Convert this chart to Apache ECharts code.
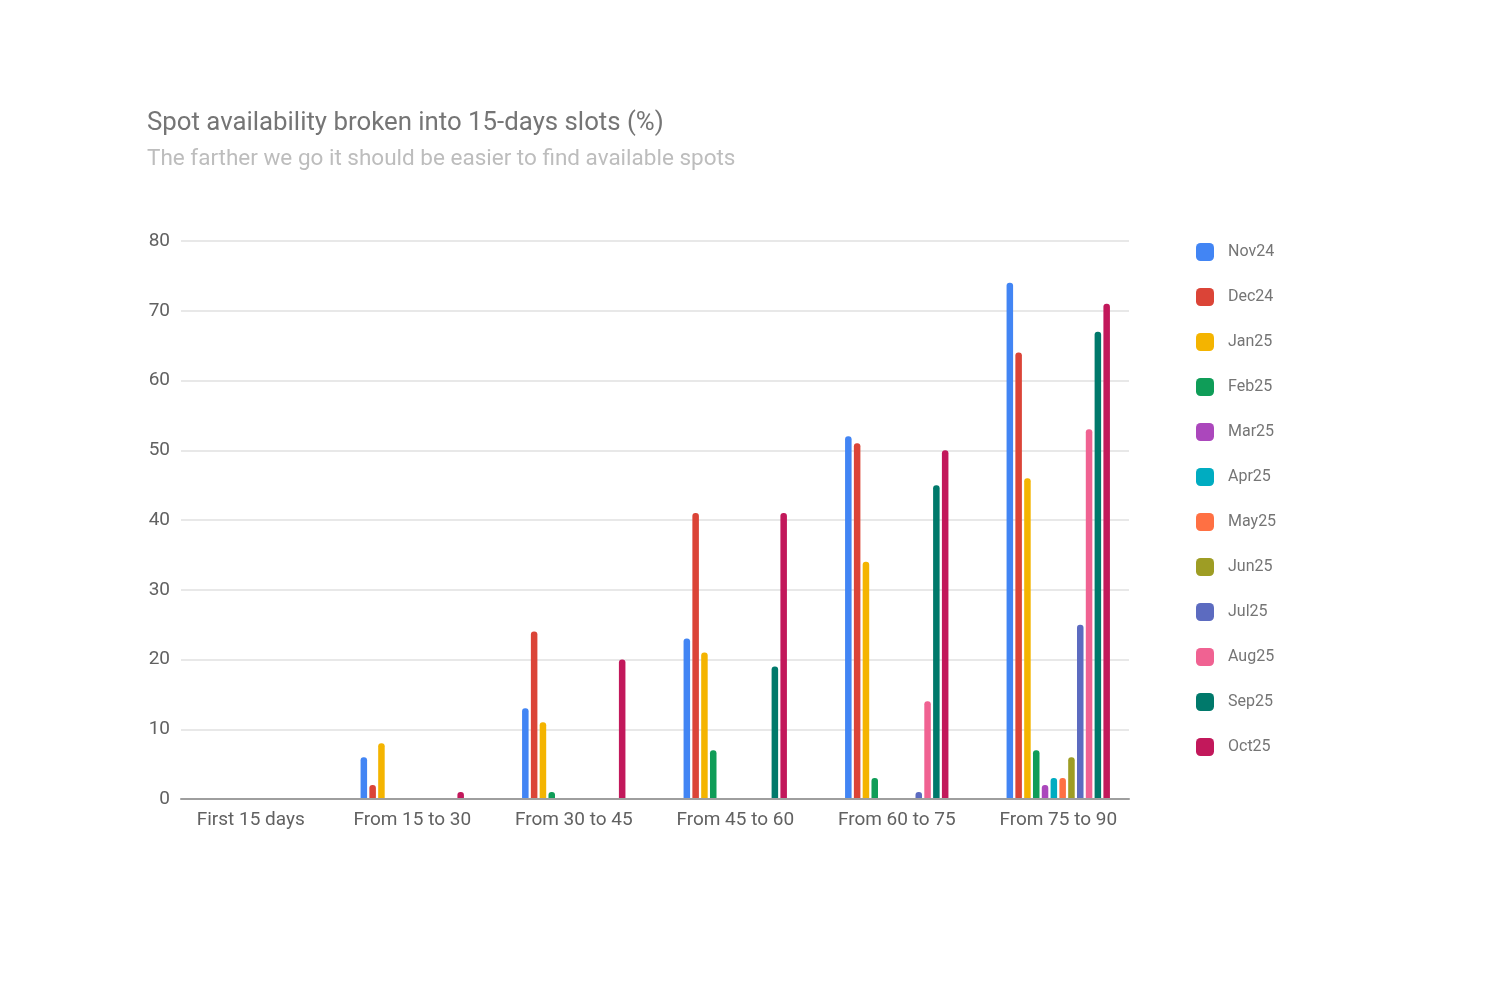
<!DOCTYPE html>
<html><head><meta charset="utf-8">
<script src="https://cdn.jsdelivr.net/npm/echarts@6/dist/echarts.min.js"></script>
<style>html,body{margin:0;padding:0;background:#fff}#c{width:1500px;height:982px}</style>
</head><body><div id="c"></div>
<script>
const categories = ['First 15 days','From 15 to 30','From 30 to 45','From 45 to 60','From 60 to 75','From 75 to 90'];
const seriesNames = ['Nov24','Dec24','Jan25','Feb25','Mar25','Apr25','May25','Jun25','Jul25','Aug25','Sep25','Oct25'];
const colors = ['#4285F4','#DB4437','#F4B400','#0F9D58','#AB47BC','#00ACC1','#FF7043','#9E9D24','#5C6BC0','#F06292','#00796B','#C2185B'];
const Nov24 = [0,6,13,23,52,74];
const Dec24 = [0,2,24,41,51,64];
const Jan25 = [0,8,11,21,34,46];
const Feb25 = [0,0,1,7,3,7];
const Mar25 = [0,0,0,0,0,2];
const Apr25 = [0,0,0,0,0,3];
const May25 = [0,0,0,0,0,3];
const Jun25 = [0,0,0,0,0,6];
const Jul25 = [0,0,0,0,1,25];
const Aug25 = [0,0,0,0,14,53];
const Sep25 = [0,0,0,19,45,67];
const Oct25 = [0,1,20,41,50,71];
const yTicks = [0,10,20,30,40,50,60,70,80];
const values = [Nov24,Dec24,Jan25,Feb25,Mar25,Apr25,May25,Jun25,Jul25,Aug25,Sep25,Oct25];

const font = 'Roboto, "Noto Sans", sans-serif';
const yMin = yTicks[0], yMax = yTicks[yTicks.length-1];
const chart = echarts.init(document.getElementById('c'));
chart.setOption({
  animation:false,
  color:colors,
  textStyle:{fontFamily:font},
  title:{
    text:'Spot availability broken into 15-days slots (%)',
    subtext:'The farther we go it should be easier to find available spots',
    left:142, top:106, itemGap:11,
    textStyle:{fontFamily:font,fontSize:25.8,fontWeight:'normal',color:'#757575'},
    subtextStyle:{fontFamily:font,fontSize:22.5,color:'#bdbdbd'}
  },
  legend:{
    orient:'vertical', left:1191, top:238,
    itemWidth:18, itemHeight:18, itemGap:27,
    icon:'roundRect',
    textStyle:{fontFamily:font,fontSize:16,color:'#757575',padding:[0,0,0,9]},
    data:seriesNames
  },
  grid:[
    {left:181,right:371,top:241,bottom:183,containLabel:false},
    {left:170,right:361,top:241,bottom:183,containLabel:false}
  ],
  xAxis:[
    {gridIndex:0,type:'category', data:categories,
     axisTick:{show:false}, axisLabel:{show:false},
     axisLine:{lineStyle:{color:'#9e9e9e',width:2}}, z:5},
    {gridIndex:1,type:'category', data:categories,
     axisTick:{show:false}, axisLine:{show:false},
     axisLabel:{fontFamily:font,fontSize:19,color:'#616161',margin:12}}
  ],
  yAxis:[
    {gridIndex:0,type:'value', min:yMin, max:yMax, interval:10,
     axisLine:{show:false}, axisTick:{show:false},
     splitLine:{lineStyle:{color:'#e0e0e0',width:1.5}},
     axisLabel:{fontFamily:font,fontSize:19,color:'#616161',margin:11}},
    {gridIndex:1,type:'value', min:yMin, max:yMax, interval:10, show:false,
     splitLine:{show:false}}
  ],
  series: seriesNames.map((n,i)=>({
    name:n, type:'bar', data:values[i], xAxisIndex:1, yAxisIndex:1,
    barGap:'35%', barCategoryGap:'36%',
    itemStyle:{borderRadius:[3,3,0,0]}
  }))
});
</script></body></html>
